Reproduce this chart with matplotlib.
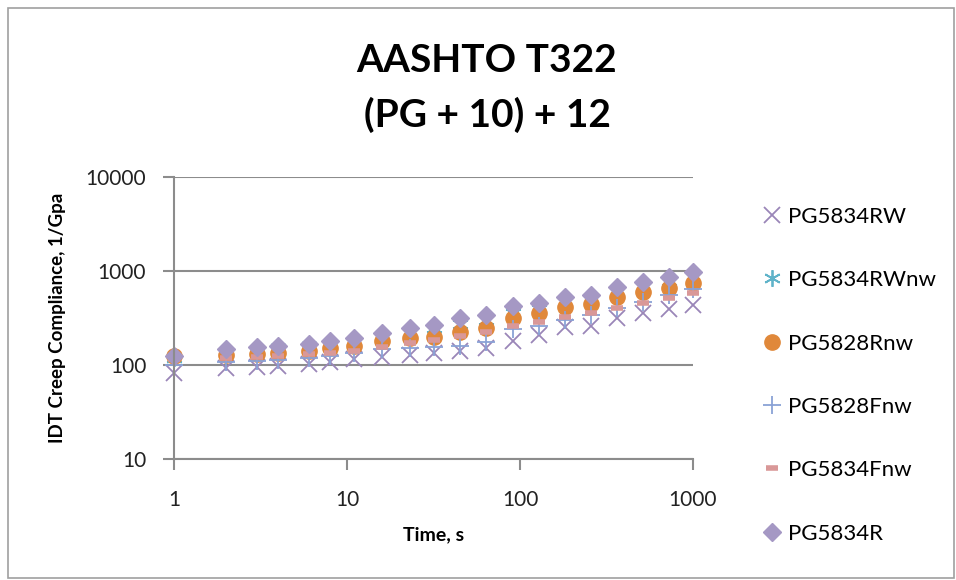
import matplotlib.pyplot as plt
from matplotlib.patches import Rectangle
from matplotlib.ticker import FixedLocator, NullLocator

plt.rcParams['font.family'] = ['Lato', 'DejaVu Sans']

# time points, s
time_s = [1, 2, 3, 4, 6, 8, 11, 16, 23, 32, 45, 64, 91, 128, 181, 256, 362, 512, 724, 1000]

# creep compliance, 1/GPa
pg5834rw = [83, 92, 95, 97, 103, 108, 115, 122, 128, 135, 140, 152, 180, 208, 252, 262, 320, 360, 395, 440]
pg5834rwnw = [118, 135, 145, 150, 158, 168, 180, 205, 225, 245, 275, 300, 360, 390, 470, 520, 610, 680, 780, 870]
pg5828rnw = [125, 128, 132, 135, 142, 150, 160, 182, 193, 200, 226, 247, 316, 360, 418, 445, 530, 600, 660, 750]
pg5828fnw = [100, 108, 110, 113, 120, 126, 135, 148, 150, 156, 160, 175, 240, 262, 300, 340, 405, 470, 555, 640]
pg5834fnw = [115, 118, 122, 125, 130, 135, 142, 155, 170, 185, 205, 225, 260, 285, 325, 357, 405, 457, 520, 585]
pg5834r = [125, 148, 155, 160, 168, 180, 195, 220, 245, 267, 316, 340, 424, 457, 529, 556, 677, 763, 862, 976]

names = ['PG5834RW', 'PG5834RWnw', 'PG5828Rnw', 'PG5828Fnw', 'PG5834Fnw', 'PG5834R']
y_ticks = [10, 100, 1000, 10000]
x_ticks = [1, 10, 100, 1000]

fig = plt.figure(figsize=(9.56, 5.8), dpi=100)
ax = fig.add_axes([174 / 956, 1 - 459 / 580, (693 - 174) / 956, (459 - 177) / 580])

ax.plot(time_s, pg5834rw, linestyle='none', marker='x', ms=12, mew=1.3, color='#9a86b8',
        label=names[0], clip_on=False)
ax.plot(time_s, pg5834rwnw, linestyle='none', marker=(6, 2, 0), ms=12, mew=1.3, color='#5fb3c9',
        label=names[1], clip_on=False)
ax.plot(time_s, pg5828rnw, linestyle='none', marker='o', ms=11, color='#e0883a', mec='#e0883a',
        label=names[2], clip_on=False)
ax.plot(time_s, pg5828fnw, linestyle='none', marker='+', ms=13, mew=1.3, color='#8aa2d6',
        label=names[3], clip_on=False)
ax.plot(time_s, pg5834fnw, linestyle='none', marker='_', ms=8, mew=4, color='#d99898',
        label=names[4], clip_on=False)
ax.plot(time_s, pg5834r, linestyle='none', marker='D', ms=9.5, color='#a598c4', mec='#a598c4',
        label=names[5], clip_on=False)

ax.set_xscale('log')
ax.set_yscale('log')
ax.set_xlim(1, 1000)
ax.set_ylim(10, 10000)
ax.xaxis.set_major_locator(FixedLocator(x_ticks))
ax.yaxis.set_major_locator(FixedLocator(y_ticks))
ax.xaxis.set_minor_locator(NullLocator())
ax.yaxis.set_minor_locator(NullLocator())
ax.set_xticklabels([str(v) for v in x_ticks])
ax.set_yticklabels([str(v) for v in y_ticks])

for s in ['top', 'right']:
    ax.spines[s].set_visible(False)
for s in ['left', 'bottom']:
    ax.spines[s].set_color('#8c8c8c')
    ax.spines[s].set_linewidth(1.5)
ax.grid(axis='y', color='#8c8c8c', linewidth=1.5)
ax.set_axisbelow(True)
ax.tick_params(axis='both', direction='out', length=8, width=1.5, color='#8c8c8c',
               labelsize=15, labelcolor='#222222')
ax.tick_params(axis='x', pad=14)
ax.tick_params(axis='y', pad=12)

ax.set_xlabel('Time, s', fontsize=14, fontweight='bold', labelpad=12)
ax.set_ylabel('IDT Creep Compliance, 1/Gpa', fontsize=13.5, fontweight='bold', labelpad=14)

fig.text(487 / 956, 1 - 60 / 580, 'AASHTO T322', ha='center', va='center',
         fontsize=28, fontweight='bold')
fig.text(487 / 956, 1 - 115 / 580, '(PG + 10) + 12', ha='center', va='center',
         fontsize=28, fontweight='bold')

fig.legend(loc='upper left', bbox_to_anchor=(752 / 956, 1 - 198 / 580), frameon=False,
           fontsize=16, labelspacing=1.95, handlelength=1.0, handletextpad=0.2,
           borderaxespad=0)

fig.patches.append(Rectangle((8 / 956, 2 / 580), 946 / 956, 570 / 580, transform=fig.transFigure,
                             fill=False, edgecolor='#a0a0a0', linewidth=1.2))

fig.savefig('out.png', dpi=100)
